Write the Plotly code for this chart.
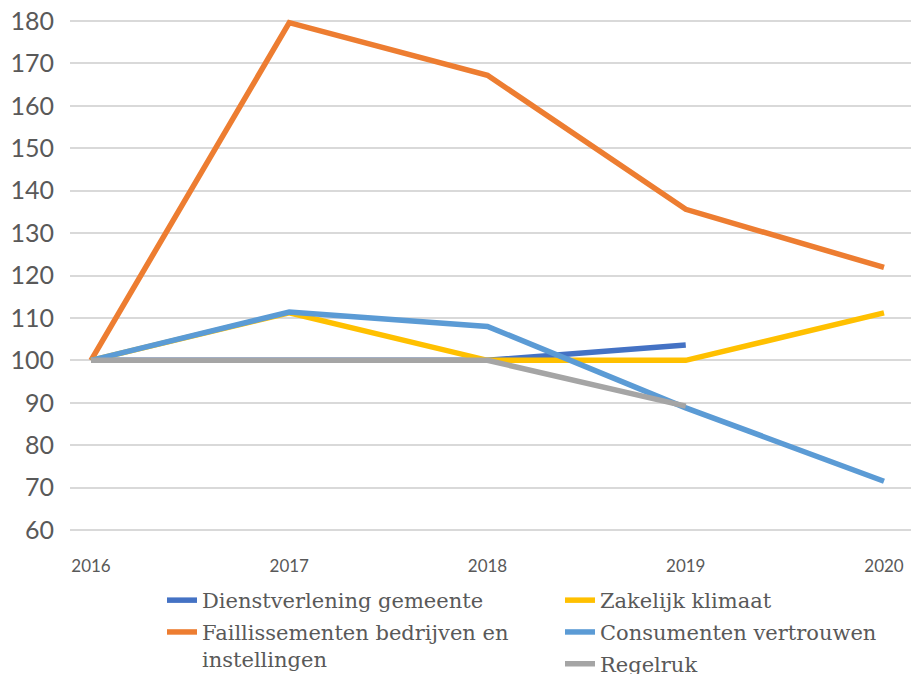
import plotly.graph_objects as go

years = [2016, 2017, 2018, 2019, 2020]
dienstverlening = [100, 100, 100, 103.6, None]
faillissementen = [100, 179.6, 167.2, 135.6, 121.9]
zakelijk = [100, 111.2, 100, 100, 111.2]
consumenten = [100, 111.4, 108.0, 88.8, 71.5]
regelruk = [100, 100, 100, 89.2, None]

names = ["Dienstverlening gemeente", "Faillissementen bedrijven en<br>instellingen",
         "Zakelijk klimaat", "Consumenten vertrouwen", "Regelruk"]
colors = ["#4472C4", "#ED7D31", "#FFC000", "#5B9BD5", "#A5A5A5"]
series = [dienstverlening, faillissementen, zakelijk, consumenten, regelruk]
legends = ["legend", "legend", "legend2", "legend2", "legend2"]

fig = go.Figure()
for i, (nm, col, ys, lg) in enumerate(zip(names, colors, series, legends)):
    fig.add_trace(go.Scatter(
        x=years, y=ys, name=nm, mode="lines",
        line=dict(color=col, width=5.5),
        legend=lg, legendgroup="g%d" % i,
        connectgaps=False,
    ))

txt = "#595959"
legend_common = dict(
    orientation="v", xref="container", yref="container",
    xanchor="left", yanchor="top", bgcolor="rgba(0,0,0,0)",
    font=dict(family="DejaVu Serif", size=21, color=txt),
    tracegroupgap=1.5, valign="top", borderwidth=0,
)

fig.update_layout(
    width=919, height=674,
    margin=dict(l=62, r=8, t=1, b=140, autoexpand=False),
    paper_bgcolor="white", plot_bgcolor="white",
    showlegend=True,
    legend=dict(x=154 / 919, y=(674 - 572) / 674, **legend_common),
    legend2=dict(x=552 / 919, y=(674 - 572) / 674, **legend_common),
    xaxis=dict(
        range=[2016 - 21 / 198.25, 2016 + 828 / 198.25],
        tickmode="array", tickvals=years, ticktext=[str(y) for y in years],
        showgrid=False, zeroline=False, showline=False,
        tickfont=dict(family="Lato", size=17, color=txt),
        ticks="", ticklabelstandoff=12, automargin=False,
        ticklabeloverflow="allow",
    ),
    yaxis=dict(
        range=[57.17, 182.83], tickmode="linear", tick0=0, dtick=10,
        showgrid=True, gridcolor="#D9D9D9", gridwidth=1.5,
        zeroline=False, showline=False,
        tickfont=dict(family="Lato", size=25, color=txt),
        ticks="", ticklabelstandoff=15, automargin=False,
        ticklabeloverflow="allow",
    ),
)

fig.write_html("out.html")
